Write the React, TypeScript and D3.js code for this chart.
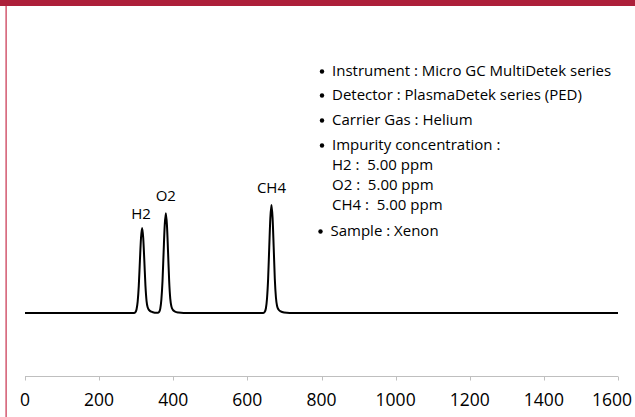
import { useEffect, useRef } from "react";
import * as d3 from "d3";

// retention axis ticks
const xTicks = [0, 200, 400, 600, 800, 1000, 1200, 1400, 1600];

// chromatogram trace: [time, signal]
const traceTime = [
  0, 294, 298, 301, 304, 307, 310, 313, 316, 319, 322, 325, 328, 331, 335, 341, 350,
  358, 362, 365, 368, 371, 374, 377, 380, 383, 386, 389, 392, 395, 399, 405, 414, 428,
  643, 647, 650, 653, 656, 659, 662, 665, 668, 671, 674, 677, 680, 684, 690, 699, 714, 1600,
];
const traceSignal = [
  20, 20, 20.3, 21.2, 23.6, 28.6, 36.5, 43.8, 47, 43.8, 36.5, 28.6, 23.8, 21.8, 20.9, 20.4, 20.1,
  20.05, 20.35, 21.4, 24.3, 30.1, 39.3, 47.9, 51.7, 47.9, 39.3, 30.1, 24.5, 22.1, 21.0, 20.45, 20.15, 20,
  20, 20.4, 21.5, 24.6, 30.9, 40.9, 50.2, 54.3, 50.2, 40.9, 30.9, 25, 22.3, 21.1, 20.5, 20.15, 20, 20,
];

// peak labels
const peakNames = ["H2", "O2", "CH4"];
const peakTimes = [316, 380, 665];
const peakHeights = [47, 51.7, 54.3];
const peakGaps = [9, 12, 12];

// annotation block
const noteLines = [
  "Instrument : Micro GC MultiDetek series",
  "Detector : PlasmaDetek series (PED)",
  "Carrier Gas : Helium",
  "Impurity concentration :",
  "H2 :  5.00 ppm",
  "O2 :  5.00 ppm",
  "CH4 :  5.00 ppm",
  "Sample : Xenon",
];
const noteBullet = [true, true, true, true, false, false, false, true];
const noteY = [70, 94, 119, 144, 164, 184, 204, 230];

function Chart() {
  const ref = useRef<SVGSVGElement>(null);

  useEffect(() => {
    const el = ref.current;
    if (!el) return;
    const W = 635, H = 417;
    const svg = d3.select(el).attr("viewBox", `0 0 ${W} ${H}`).attr("width", W).attr("height", H);
    svg.selectAll("*").remove();
    const font = "'Open Sans', 'Liberation Sans', Arial, sans-serif";

    svg.append("rect").attr("width", W).attr("height", H).attr("fill", "#fff");
    // frame: red top band + thin left rule
    svg.append("rect").attr("x", 0).attr("y", 0).attr("width", W).attr("height", 6).attr("fill", "#AD1F3A");
    svg.append("rect").attr("x", 5.5).attr("y", 6).attr("width", 1.2).attr("height", H - 6).attr("fill", "#C8304C");

    const x = d3.scaleLinear().domain([0, 1600]).range([25, 618]);
    const y = d3.scaleLinear().domain([0, 100]).range([376, 61]);

    // axis
    const axisY = y(0) + 0.5;
    svg.append("line").attr("x1", x(0)).attr("x2", x(1600)).attr("y1", axisY).attr("y2", axisY).attr("stroke", "#BFBFBF").attr("stroke-width", 1);
    svg.append("g").selectAll("line").data(xTicks).join("line")
      .attr("x1", (d) => Math.round(x(d)) + 0.5).attr("x2", (d) => Math.round(x(d)) + 0.5)
      .attr("y1", axisY).attr("y2", axisY + 4).attr("stroke", "#BFBFBF").attr("stroke-width", 1);
    svg.append("g").selectAll("text").data(xTicks).join("text")
      .attr("x", (d) => Math.min(x(d), W - 23)).attr("y", 406).attr("text-anchor", "middle")
      .attr("fill", "#000").attr("font-size", 17.5).attr("font-family", font).text((d) => d);

    // trace
    const pts = traceTime.map((t, i) => [t, traceSignal[i]] as [number, number]);
    const line = d3.line<[number, number]>().x((d) => x(d[0])).y((d) => y(d[1])).curve(d3.curveMonotoneX);
    svg.append("path").datum(pts).attr("fill", "none").attr("stroke", "#000").attr("stroke-width", 2)
      .attr("stroke-linejoin", "round").attr("d", line);

    // peak labels
    svg.append("g").selectAll("text").data(peakNames).join("text")
      .attr("x", (_d, i) => x(peakTimes[i]) - (i === 0 ? 1 : 0)).attr("y", (_d, i) => y(peakHeights[i]) - peakGaps[i])
      .attr("text-anchor", "middle").attr("fill", "#000").attr("font-size", 15).attr("font-family", font).text((d) => d);

    // annotation block
    const g = svg.append("g");
    noteLines.forEach((t, i) => {
      const xo = i === 7 ? -1.5 : 0;
      if (noteBullet[i]) g.append("circle").attr("cx", 322 + xo).attr("cy", noteY[i] + 1.5).attr("r", 2.2).attr("fill", "#000");
      g.append("text").attr("x", 332 + xo).attr("y", noteY[i] + 5.5).attr("fill", "#000")
        .attr("font-size", 15).attr("font-family", font).style("white-space", "pre").text(t);
    });
  }, []);

  return <svg ref={ref} role="img" aria-label="Chromatogram" style={{ display: "block" }} />;
}

export default function App() {
  return (
    <>
      <style>{`body{margin:0}`}</style>
      <Chart />
    </>
  );
}
